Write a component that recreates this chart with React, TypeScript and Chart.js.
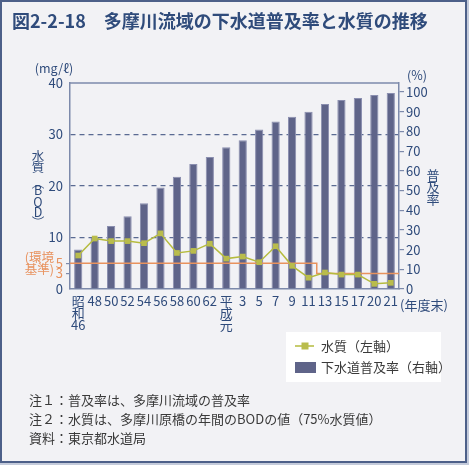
import React, { useEffect, useRef } from 'react';
import { Chart, registerables } from 'chart.js';

Chart.register(...registerables);

// ---- data ----
const categories: (string | string[])[] = [
  ['昭', '和', '46'], '48', '50', '52', '54', '56', '58', '60', '62', ['平', '成', '元'],
  '3', '5', '7', '9', '11', '13', '15', '17', '20', '21',
];
const sewerageRate = [20, 26, 32, 37, 43.5, 51.5, 57, 63.5, 67, 72, 75.5, 81, 85, 87.5, 90, 94, 96, 97, 98.5, 99.5];
const bodValues = [6.5, 9.8, 9.3, 9.3, 8.9, 10.8, 7.0, 7.4, 8.8, 5.9, 6.3, 5.2, 8.3, 4.5, 2.2, 3.2, 2.8, 2.8, 1.0, 1.2];
const envStandard = [5, 5, 5, 5, 5, 5, 5, 5, 5, 5, 5, 5, 5, 5, 5, 3, 3, 3, 3, 3];
const leftTicks = [0, 3, 5, 10, 20, 30, 40];
const rightTicks = [0, 10, 20, 30, 40, 50, 60, 70, 80, 90, 100];
const orangeTicks = [3, 5];
const dashedGrid = [10, 20, 30];
const titleText = '図2-2-18　多摩川流域の下水道普及率と水質の推移';
const legendLine = '水質（左軸）';
const legendBar = '下水道普及率（右軸）';
const noteLines = [
  '注１：普及率は、多摩川流域の普及率',
  '注２：水質は、多摩川原橋の年間のBODの値（75%水質値）',
  '資料：東京都水道局',
];

const FONT = "'Noto Sans CJK JP', 'Noto Sans', sans-serif";
const NAVY = '#2f4b7b';
const AXIS = '#7d8aab';
const ORANGE = '#e8925e';
const BAR = '#5f6489';
const GREEN_LINE = '#b5bb3e';
const GREEN_PT = '#b9bc4c';
const TEXT = '#3a3a3a';

function drawVertical(ctx: CanvasRenderingContext2D, chars: string[], x: number, ys: number[], rotateIdx: number[]) {
  chars.forEach((c, i) => {
    ctx.save();
    ctx.translate(x, ys[i]);
    if (rotateIdx.includes(i)) ctx.rotate(Math.PI / 2);
    ctx.textAlign = 'center';
    ctx.textBaseline = 'middle';
    ctx.fillText(c, 0, 0);
    ctx.restore();
  });
}

const decorPlugin = {
  id: 'decor',
  beforeDraw(chart: any) {
    const ctx: CanvasRenderingContext2D = chart.ctx;
    ctx.save();
    ctx.fillStyle = '#c4cbdb';
    ctx.fillRect(0, 0, chart.width, chart.height);
    ctx.fillStyle = '#f2f2f5';
    ctx.fillRect(0, 0, 467, 463);
    ctx.strokeStyle = '#4d6089';
    ctx.lineWidth = 2;
    ctx.strokeRect(1, 1, 465, 461);
    // title
    ctx.fillStyle = NAVY;
    ctx.font = `bold 18px ${FONT}`;
    ctx.textBaseline = 'middle';
    ctx.textAlign = 'left';
    ctx.fillText(titleText, 12, 21);
    ctx.restore();
  },
  afterDatasetDraw(chart: any, args: any) {
    if (args.index !== 1) return;
    const ctx: CanvasRenderingContext2D = chart.ctx;
    const x = chart.scales.x;
    const y = chart.scales.y;
    const area = chart.chartArea;
    ctx.save();
    ctx.strokeStyle = ORANGE;
    ctx.lineWidth = 1.5;
    ctx.beginPath();
    const n = envStandard.length;
    for (let i = 0; i < n; i++) {
      const xs = i === 0 ? area.left : (x.getPixelForValue(i - 1) + x.getPixelForValue(i)) / 2;
      const xe = i === n - 1 ? area.right : (x.getPixelForValue(i) + x.getPixelForValue(i + 1)) / 2;
      const yy = y.getPixelForValue(envStandard[i]);
      if (i === 0) ctx.moveTo(xs, yy);
      else ctx.lineTo(xs, yy);
      ctx.lineTo(xe, yy);
    }
    ctx.stroke();
    ctx.restore();
  },
  afterDraw(chart: any) {
    const ctx: CanvasRenderingContext2D = chart.ctx;
    const area = chart.chartArea;
    ctx.save();
    // top frame line
    ctx.strokeStyle = AXIS;
    ctx.lineWidth = 1.5;
    ctx.beginPath();
    ctx.moveTo(area.left, area.top);
    ctx.lineTo(area.right, area.top);
    ctx.stroke();

    // axis units
    ctx.fillStyle = NAVY;
    ctx.font = `12.5px ${FONT}`;
    ctx.textBaseline = 'middle';
    ctx.textAlign = 'center';
    ctx.fillText('(mg/ℓ)', 54, 68);
    ctx.fillText('(%)', 417, 75);
    ctx.textAlign = 'left';
    ctx.font = `13px ${FONT}`;
    ctx.fillText('(年度末)', 400, 305);

    // vertical axis titles
    ctx.font = `12.5px ${FONT}`;
    drawVertical(ctx, ['水', '質', '（', 'B', 'O', 'D', '）'], 38, [156.5, 167.5, 183, 190.5, 202, 212.5, 222], [2, 6]);
    ctx.font = `13px ${FONT}`;
    drawVertical(ctx, ['普', '及', '率'], 433, [175, 187, 199], []);

    // environmental standard label
    ctx.fillStyle = ORANGE;
    ctx.font = `12.5px ${FONT}`;
    ctx.textAlign = 'right';
    ctx.fillText('(環境', 54, 257);
    ctx.fillText('基準)', 54, 269);

    // legend
    ctx.fillStyle = '#ffffff';
    ctx.fillRect(286, 332, 155, 50);
    ctx.strokeStyle = GREEN_LINE;
    ctx.lineWidth = 1.5;
    ctx.beginPath();
    ctx.moveTo(295, 346);
    ctx.lineTo(314, 346);
    ctx.stroke();
    ctx.fillStyle = GREEN_PT;
    ctx.fillRect(301.5, 342.5, 7, 7);
    ctx.fillStyle = BAR;
    ctx.fillRect(295, 362, 21, 11);
    ctx.fillStyle = TEXT;
    ctx.font = `13px ${FONT}`;
    ctx.textAlign = 'left';
    ctx.fillText(legendLine, 321, 346);
    ctx.fillText(legendBar, 321, 367.5);

    // notes
    ctx.fillStyle = TEXT;
    ctx.font = `13px ${FONT}`;
    const noteY = [400, 419, 438];
    noteLines.forEach((t, i) => ctx.fillText(t, 29, noteY[i]));
    ctx.restore();
  },
};

export default function App() {
  const ref = useRef<HTMLCanvasElement | null>(null);
  useEffect(() => {
    if (!ref.current) return;
    const chart = new Chart(ref.current, {
      type: 'bar',
      data: {
        labels: categories as any,
        datasets: [
          {
            type: 'line',
            label: legendLine,
            data: bodValues,
            yAxisID: 'y',
            borderColor: GREEN_LINE,
            borderWidth: 1.5,
            backgroundColor: GREEN_PT,
            pointStyle: 'rect',
            pointRadius: 4,
            pointBorderWidth: 0,
            pointBackgroundColor: GREEN_PT,
            tension: 0,
          } as any,
          {
            type: 'bar',
            label: legendBar,
            data: sewerageRate,
            yAxisID: 'y1',
            backgroundColor: BAR,
            borderColor: '#8a8eaf',
            borderWidth: { top: 1, left: 1, right: 1, bottom: 0 },
            barPercentage: 0.5,
            categoryPercentage: 1,
          } as any,
        ],
      },
      options: {
        responsive: false,
        animation: false,
        layout: { padding: { top: 83, left: 0, right: 0, bottom: 0 } },
        plugins: { legend: { display: false }, title: { display: false }, tooltip: { enabled: false } },
        scales: {
          x: {
            grid: { display: false, drawTicks: false },
            border: { color: AXIS, width: 1.5 },
            ticks: {
              color: NAVY,
              font: { family: FONT, size: 13, lineHeight: '12px' } as any,
              padding: 6,
              maxRotation: 0,
              autoSkip: false,
            },
            afterFit: (s: any) => { s.height = 176; },
          },
          y: {
            position: 'left',
            min: 0,
            max: 40,
            afterBuildTicks: (s: any) => { s.ticks = leftTicks.map((v) => ({ value: v })); },
            afterFit: (s: any) => { s.width = 70; },
            border: { color: AXIS, width: 1.5, dash: [5, 4] },
            grid: {
              color: (c: any) => (dashedGrid.includes(c.tick?.value) ? '#5a6a92' : 'rgba(0,0,0,0)'),
              tickColor: (c: any) => (orangeTicks.includes(c.tick?.value) ? AXIS : 'rgba(0,0,0,0)'),
              lineWidth: 1.2,
              tickLength: 4,
            },
            ticks: {
              color: (c: any) => (orangeTicks.includes(c.tick?.value) ? ORANGE : NAVY),
              font: { family: FONT, size: 13 },
              padding: 3,
            },
          },
          y1: {
            position: 'right',
            min: 0,
            max: 104.6,
            afterBuildTicks: (s: any) => { s.ticks = rightTicks.map((v) => ({ value: v })); },
            afterFit: (s: any) => { s.width = 70; },
            border: { color: AXIS, width: 1.5 },
            grid: { drawOnChartArea: false, color: AXIS, tickLength: 5, lineWidth: 1.2 },
            ticks: { color: NAVY, font: { family: FONT, size: 13 }, padding: 2 },
          },
        },
      },
      plugins: [decorPlugin],
    });
    return () => chart.destroy();
  }, []);
  return (
    <div style={{ position: 'absolute', left: 0, top: 0, width: 469, height: 465 }}>
      <canvas ref={ref} width={469} height={465} style={{ width: 469, height: 465, display: 'block' }} />
    </div>
  );
}
